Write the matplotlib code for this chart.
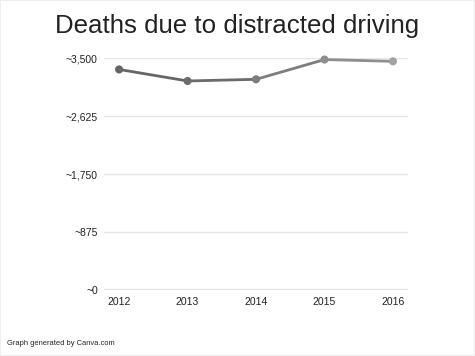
import matplotlib
matplotlib.use("Agg")
import matplotlib.pyplot as plt
from matplotlib.patches import Rectangle

years = ["2012", "2013", "2014", "2015", "2016"]
deaths = [3328, 3154, 3179, 3477, 3450]
ytick_values = [0, 875, 1750, 2625, 3500]
ytick_labels = ["~0", "~875", "~1,750", "~2,625", "~3,500"]
title = "Deaths due to distracted driving"
footer = "Graph generated by Canva.com"

point_colors = ["#666666", "#6b6b6b", "#7d7d7d", "#8e8e8e", "#a2a2a2"]

plt.rcParams['font.family'] = ['Liberation Sans', 'DejaVu Sans']

fig = plt.figure(figsize=(4.75, 3.56), dpi=100)
ax = fig.add_axes([0.219, 0.185, 0.640, 0.652])

x = list(range(len(years)))
for i in range(len(x) - 1):
    ax.plot(x[i:i + 2], deaths[i:i + 2], color=point_colors[i], lw=2.0,
            solid_capstyle='round', clip_on=False, zorder=3)
ax.scatter(x, deaths, s=34, c=point_colors, zorder=4, clip_on=False, linewidths=0)

ax.set_xlim(-0.22, 4.22)
ax.set_ylim(0, 3500)
ax.set_yticks(ytick_values)
ax.set_yticklabels(ytick_labels)
ax.set_xticks(x)
ax.set_xticklabels(years)
ax.tick_params(axis='both', length=0, labelsize=7.5, colors='#222222')
ax.tick_params(axis='y', pad=4.5)
ax.tick_params(axis='x', pad=5)
ax.grid(axis='y', color='#e5e5e5', lw=1)
ax.axhline(0, color='#e3e3e3', lw=1.6, zorder=1)
ax.set_axisbelow(True)
for s in ax.spines.values():
    s.set_visible(False)

fig.text(0.5, 0.928, title, ha='center', va='center', fontsize=18.6, color='#222222')
fig.text(0.015, 0.034, footer, ha='left', va='center', fontsize=5.4, color='#222222')
fig.patches.append(Rectangle((0, 0), 1, 1, transform=fig.transFigure,
                             fill=False, edgecolor='#eeeeee', lw=1.5))

fig.savefig("out.png", dpi=100)
